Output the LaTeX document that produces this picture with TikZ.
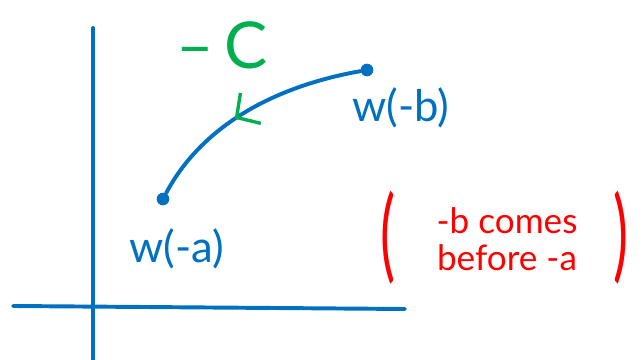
\documentclass[tikz,border=0pt]{standalone}
\usepackage{fontspec}
\setmainfont{Lato}
\usetikzlibrary{positioning}
\usetikzlibrary{arrows.meta}
\usetikzlibrary{decorations.markings}

\definecolor{inkblue}{RGB}{0,112,192}
\definecolor{inkgreen}{RGB}{0,176,80}
\definecolor{inkred}{RGB}{255,0,0}

\tikzset{
  pen/.style={inkblue,line width=2.8pt,line cap=round},
  enddot/.style={circle,fill=inkblue,inner sep=0pt,minimum size=9pt},
  bluelabel/.style={text=inkblue,font=\fontsize{31}{34}\selectfont},
  redparen/.style={text=inkred,font=\fontsize{40}{40}\selectfont}
}

\begin{document}
\begin{tikzpicture}[x=0.025cm,y=0.025cm]
  \useasboundingbox (0,0) rectangle (642,360);

  % axes
  \draw[pen] (93,332) -- (93,0);
  \draw[pen] (13,54) -- (405,51);

  % end points of the contour
  \node[enddot] at (367,290) (wb) {};
  \node[enddot] at (163,161) (wa) {};
  \node[bluelabel] at (401,252) (wblabel) {w(-b)};
  \node[bluelabel] at (177,111) (walabel) {w(-a)};

  % the contour, run backwards
  \draw[pen,postaction={decorate},
    decoration={markings,mark=at position .57 with
      {\arrow[inkgreen,line width=2.4pt,line cap=round]{Straight Barb[length=12pt,width=26pt]}}}]
    (wb) to[out=190,in=62,looseness=.9] (wa);
  \node[text=inkgreen,font=\fontsize{46}{48}\selectfont] at (222,315) (negC) {–\,C};

  % note
  \node[text=inkred,align=center,font=\fontsize{25}{26}\selectfont] at (507,121) (note) {-b comes\\before -a};
  \node[redparen] at (388,122) (lparen) {\scalebox{1}[1.8]{(}};
  \node[redparen] at (621,122) (rparen) {\scalebox{1}[1.8]{)}};

\end{tikzpicture}
\end{document}
